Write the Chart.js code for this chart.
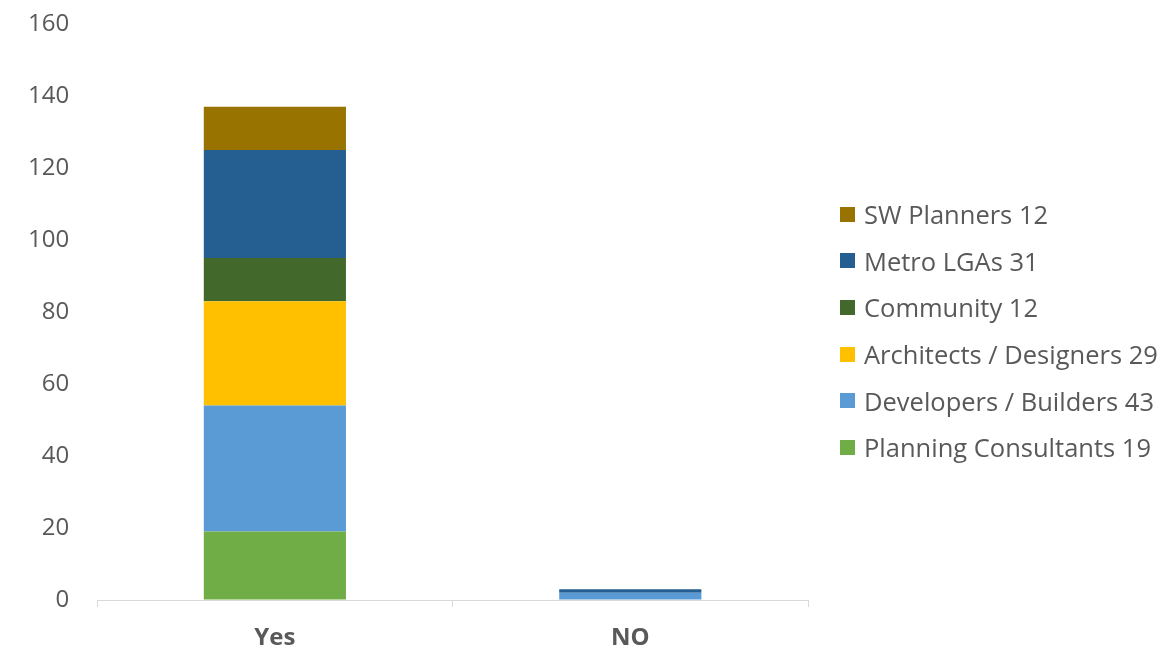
<!DOCTYPE html>
<html>
<head>
<meta charset="utf-8">
<script src="https://cdn.jsdelivr.net/npm/chart.js@4/dist/chart.umd.min.js"></script>
<style>
  body { margin: 0; background: #fff; }
  #wrap { position: relative; width: 1165px; height: 661px; }
  #legend { position: absolute; left: 840px; top: 191px; font-family: "Open Sans", sans-serif; font-size: 25.5px; color: #595959; }
  #legend .item { height: 46.6px; display: flex; align-items: center; white-space: nowrap; }
  #legend .box { width: 15px; height: 15px; margin-right: 9px; flex: none; }
</style>
</head>
<body>
<div id="wrap"><canvas id="myChart"></canvas><div id="legend"></div></div>
<script>
const categories = ["Yes", "NO"]
const seriesNames = ["Planning Consultants 19", "Developers / Builders 43", "Architects / Designers 29", "Community 12", "Metro LGAs 31", "SW Planners 12"]
const planningValues = [19, 0]
const developersValues = [35, 2]
const architectsValues = [29, 0]
const communityValues = [12, 0]
const metroValues = [30, 1]
const swValues = [12, 0]
const yTicks = [0, 20, 40, 60, 80, 100, 120, 140, 160]

const colors = ["#70AD47", "#5B9BD5", "#FFC000", "#43682B", "#255E91", "#997300"]
const allValues = [planningValues, developersValues, architectsValues, communityValues, metroValues, swValues]

const datasets = allValues.map((vals, i) => ({
    label: seriesNames[i],
    data: vals,
    backgroundColor: colors[i],
    borderWidth: 0,
    barPercentage: 0.4,
    categoryPercentage: 1
}))

const textColor = "#595959"
const fontFam = "Open Sans, sans-serif"

var ctx = document.getElementById('myChart').getContext('2d');
let myChart = new Chart(ctx, {
    type: 'bar',
    data: { labels: categories, datasets: datasets },
    options: {
        responsive: true,
        maintainAspectRatio: false,
        animation: false,
        layout: { padding: { top: 24, right: 357, left: 22, bottom: 0 } },
        plugins: {
            tooltip: { enabled: false },
            legend: { display: false }
        },
        scales: {
            x: {
                stacked: true,
                offset: true,
                grid: { display: true, drawOnChartArea: false, tickLength: 7, color: "#d9d9d9", offset: true },
                border: { display: true, color: "#d9d9d9" },
                ticks: { color: textColor, font: { family: fontFam, size: 24, weight: 'bold' }, padding: 17 },
                afterFit: scale => { scale.height = 61 }
            },
            y: {
                stacked: true,
                min: 0,
                max: 160,
                afterBuildTicks: axis => { axis.ticks = yTicks.map(v => ({ value: v })) },
                grid: { display: true, drawOnChartArea: false, tickLength: 22, color: "rgba(0,0,0,0)" },
                border: { display: false },
                ticks: { color: textColor, font: { family: fontFam, size: 24 }, padding: 6 }
            }
        }
    }
});

// legend built from the datasets, top item = last series
const legendEl = document.getElementById('legend')
myChart.data.datasets.slice().reverse().forEach(ds => {
    const item = document.createElement('div')
    item.className = 'item'
    const box = document.createElement('span')
    box.className = 'box'
    box.style.background = ds.backgroundColor
    const txt = document.createElement('span')
    txt.textContent = ds.label
    item.appendChild(box)
    item.appendChild(txt)
    legendEl.appendChild(item)
})
</script>
</body>
</html>
